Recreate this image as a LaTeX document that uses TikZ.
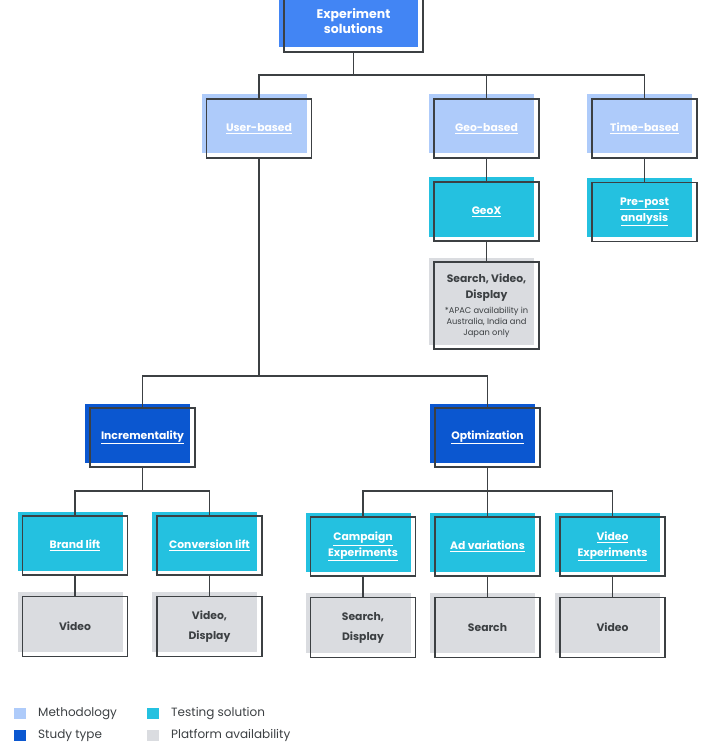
\documentclass[tikz,border=0pt]{standalone}
\usepackage{fontspec}
\setmainfont{Poppins}
\usetikzlibrary{shadows}
\definecolor{expBlue}{HTML}{4285F4}
\definecolor{methCol}{HTML}{AECBFA}
\definecolor{studyCol}{HTML}{0B57D0}
\definecolor{testCol}{HTML}{24C1E0}
\definecolor{platCol}{HTML}{DADCE0}
\definecolor{edgeCol}{HTML}{3C4043}
\definecolor{txtCol}{HTML}{3C4043}
\tikzset{
 box/.style={draw=edgeCol, line width=1.3pt, minimum width=105pt, minimum height=59pt,
  inner sep=0pt, align=center, font=\bfseries\fontsize{10.8}{16}\selectfont,
  general shadow={fill=#1, shadow xshift=-5pt, shadow yshift=4.5pt}},
 meth/.style={box=methCol, text=white},
 study/.style={box=studyCol, text=white},
 test/.style={box=testCol, text=white},
 plat/.style={box=platCol, text=txtCol, minimum height=60pt},
 link/.style={draw=edgeCol, line width=1.3pt},
 legtext/.style={anchor=west, text=txtCol, font=\fontsize{12}{14}\selectfont, inner sep=0pt}
}
\newcommand{\legendItem}[5]{
    \fill[#4] (#2,#3) rectangle ++(12,11);
    \node[legtext] (#1) at (#2+24,#3+5.5) {#5};
}
\newcommand{\ul}[1]{\underline{#1}}
\newcommand{\nt}[1]{{\mdseries\fontsize{8.3}{11}\selectfont #1}}

\begin{document}
\begin{tikzpicture}[x=1pt, y=-1pt]
    \useasboundingbox (0,0) rectangle (704,746);
    \clip (0,0) rectangle (704,746);

    \node[box=expBlue, text=white, minimum width=139pt, minimum height=62pt,
      font=\bfseries\fontsize{12.5}{15.5}\selectfont] (top) at (353.5,21) {Experiment\\solutions};

    \node[meth] (user) at (259,128.5) {\ul{User-based}};
    \node[meth] (geo) at (486.5,128.5) {\ul{Geo-based}};
    \node[meth] (time) at (644.5,128.5) {\ul{Time-based}};

    \node[test] (geox) at (486.5,211.5) {\ul{GeoX}};
    \node[test] (prepost) at (644.5,212) {\ul{Pre-post}\\\ul{analysis}};
    \node[plat, minimum height=87pt] (geoplat) at (486.5,305.5)
      {Search, Video,\\Display\\[-1pt]\nt{*APAC availability in}\\[-5pt]\nt{Australia, India and}\\[-5pt]\nt{Japan only}};

    \node[study] (incr) at (142.5,437.5) {\ul{Incrementality}};
    \node[study] (optim) at (487.5,437.5) {\ul{Optimization}};

    \node[test] (brand) at (75,545.5) {\ul{Brand lift}};
    \node[test] (conv) at (209.5,545.5) {\ul{Conversion lift}};
    \node[test] (camp) at (363,546.5) {\ul{Campaign}\\\ul{Experiments}};
    \node[test] (advar) at (487.5,546.5) {\ul{Ad variations}};
    \node[test] (videxp) at (612.5,546.5) {\ul{Video}\\\ul{Experiments}};

    \node[plat] (brandplat) at (75,626.5) {Video};
    \node[plat] (convplat) at (209.5,626.5) {Video,\\[4pt]Display};
    \node[plat] (campplat) at (363,627.5) {Search,\\[4pt]Display};
    \node[plat] (advarplat) at (487.5,627.5) {Search};
    \node[plat] (videxpplat) at (612.5,627.5) {Video};

    \coordinate (busTop) at (353.5,75);
    \coordinate (busUser) at (259,376);
    \coordinate (busIncr) at (142.5,491);
    \coordinate (busOptim) at (487.5,491);

    \draw[link] (top.south) -- (busTop);
    \draw[link] (user.north) |- (busTop) -| (time.north);
    \draw[link] (geo.north) -- (geo.north |- busTop);
    \draw[link] (geo.south) -- (geox.north);
    \draw[link] (geox.south) -- (geoplat.north);
    \draw[link] (time.south) -- (prepost.north);

    \draw[link] (user.south) -- (busUser);
    \draw[link] (incr.north) |- (busUser) -| (optim.north);

    \draw[link] (incr.south) -- (busIncr);
    \draw[link] (brand.north) |- (busIncr) -| (conv.north);
    \draw[link] (optim.south) -- (busOptim);
    \draw[link] (camp.north) |- (busOptim) -| (videxp.north);
    \draw[link] (advar.north) -- (advar.north |- busOptim);

    \draw[link] (brand.south) -- (brandplat.north);
    \draw[link] (conv.south) -- (convplat.north);
    \draw[link] (camp.south) -- (campplat.north);
    \draw[link] (advar.south) -- (advarplat.north);
    \draw[link] (videxp.south) -- (videxpplat.north);

    \legendItem{legMeth}{14}{708}{methCol}{Methodology}
    \legendItem{legStudy}{14}{730}{studyCol}{Study type}
    \legendItem{legTest}{147}{708}{testCol}{Testing solution}
    \legendItem{legPlat}{147}{730}{platCol}{Platform availability}
\end{tikzpicture}
\end{document}
